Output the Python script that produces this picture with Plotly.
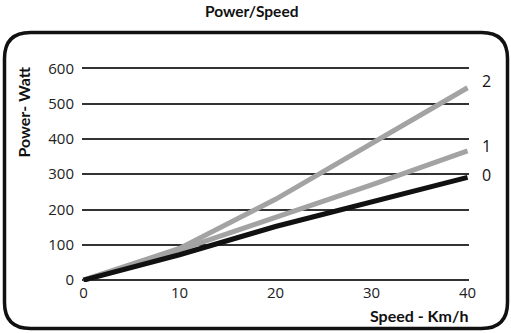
import plotly.graph_objects as go

speed = [0, 10, 20, 30, 40]
power_0 = [0, 72, 152, 222, 291]
power_1 = [0, 86, 178, 270, 366]
power_2 = [0, 90, 229, 386, 545]
series_names = ["2", "1", "0"]
x_ticks = [0, 10, 20, 30, 40]
y_ticks = [0, 100, 200, 300, 400, 500, 600]

W, H = 511, 333
L, R, T, B = 82, 42, 64, 51
PW, PH = W - L - R, H - T - B


def px(x):
    return (x - L) / PW


def py(y):
    return (H - B - y) / PH


fig = go.Figure()
series = [(power_2, "#a3a3a3"), (power_1, "#a3a3a3"), (power_0, "#111111")]
for (vals, col), name in zip(series, series_names):
    fig.add_trace(go.Scatter(x=speed, y=vals, mode="lines", name=name,
                             line=dict(color=col, width=5), showlegend=False))

# end labels
shifts = {"2": 7, "1": 5, "0": 2}
for (vals, col), name in zip(series, series_names):
    fig.add_annotation(x=speed[-1], y=vals[-1], text=name, showarrow=False,
                       xanchor="left", yanchor="middle", xshift=12, yshift=shifts[name],
                       font=dict(family="Open Sans", size=16, color="#111"))

# rounded frame
x0, x1, y0, y1, r = 4.5, 507.5, 32.5, 328.5, 26
path = (f"M {px(x0 + r)},{py(y0)} L {px(x1 - r)},{py(y0)} "
        f"Q {px(x1)},{py(y0)} {px(x1)},{py(y0 + r)} "
        f"L {px(x1)},{py(y1 - r)} Q {px(x1)},{py(y1)} {px(x1 - r)},{py(y1)} "
        f"L {px(x0 + r)},{py(y1)} Q {px(x0)},{py(y1)} {px(x0)},{py(y1 - r)} "
        f"L {px(x0)},{py(y0 + r)} Q {px(x0)},{py(y0)} {px(x0 + r)},{py(y0)} Z")
fig.add_shape(type="path", path=path, xref="paper", yref="paper",
              line=dict(color="#111", width=3.5), layer="above")

fig.add_annotation(x=px(251), y=py(11), xref="paper", yref="paper", text="<b>Power/Speed</b>",
                   showarrow=False, xanchor="center", yanchor="middle",
                   font=dict(family="Lato", size=15.5, color="#111"))
fig.add_annotation(x=px(470), y=py(315), xref="paper", yref="paper", text="<b>Speed - Km/h</b>",
                   showarrow=False, xanchor="right", yanchor="middle",
                   font=dict(family="Lato", size=16, color="#111"))
fig.add_annotation(x=px(22.5), y=py(112), xref="paper", yref="paper", text="<b>Power- Watt</b>",
                   showarrow=False, xanchor="center", yanchor="middle", textangle=-90,
                   font=dict(family="Lato", size=16, color="#111"))

fig.update_layout(
    width=W, height=H, margin=dict(l=L, r=R, t=T, b=B),
    paper_bgcolor="white", plot_bgcolor="white",
    xaxis=dict(range=[-0.15, 40.15], tickvals=x_ticks, showgrid=False, zeroline=False,
               showline=False, ticks="", ticklen=0,
               tickfont=dict(family="Open Sans", size=15, color="#222")),
    yaxis=dict(range=[-5.2, 612.2], tickvals=y_ticks, showgrid=True, gridcolor="#333",
               gridwidth=1.5, zeroline=False, showline=False, ticks="outside", ticklen=4,
               tickcolor="rgba(0,0,0,0)",
               tickfont=dict(family="Open Sans", size=15, color="#222")),
)

fig.write_html("out.html")
